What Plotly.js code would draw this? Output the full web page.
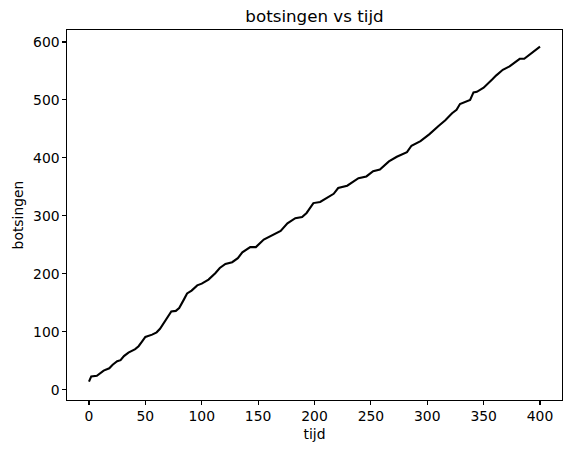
<!DOCTYPE html>
<html>
<head>
<meta charset="utf-8">
<script src="https://cdn.plot.ly/plotly-3.0.1.min.js"></script>
<style>html,body{margin:0;padding:0;background:#fff;}#chart{width:571px;height:453px;}</style>
</head>
<body>
<div id="chart"></div>
<script>
const tijd = [0,2,7,10,13,18,21,25,28,31,35,41,44,47,50,56,60,63,67,69,73,77,80,84,87,91,96,100,106,112,116,121,127,132,136,143,148,155,162,170,176,183,189,193,199,205,211,217,221,229,239,246,252,258,266,273,282,286,294,302,310,316,322,326,329,335,338,341,344,350,354,358,361,367,373,378,382,386,391,395,400];
const botsingen = [14,23,24,28,33,37,43,49,51,58,64,70,75,83,91,95,99,105,118,122,135,136,141,155,166,171,180,183,190,201,210,217,220,227,237,246,246,259,266,274,287,296,298,305,322,324,331,338,348,352,365,368,377,380,394,402,410,421,429,441,455,465,477,483,493,498,500,513,514,521,528,536,542,552,558,565,571,571,578,585,592];
const xTicks = [0,50,100,150,200,250,300,350,400];
const yTicks = [0,100,200,300,400,500,600];

const font = "DejaVu Sans, sans-serif";
const axisCommon = {
  showgrid:false, zeroline:false, showline:true, mirror:true,
  linecolor:'#000', linewidth:1.1, ticks:'outside', ticklen:3.5, tickwidth:1.1,
  tickcolor:'#000', tickfont:{family:font, size:13.9, color:'#000'}
};
Plotly.newPlot('chart', [{
  x: tijd, y: botsingen, type:'scatter', mode:'lines',
  line:{color:'#000', width:2.1}
}], {
  width:571, height:453,
  margin:{l:67, r:9, t:30, b:53, pad:0},
  paper_bgcolor:'#fff', plot_bgcolor:'#fff',
  showlegend:false,
  title:{text:'botsingen vs tijd', font:{family:font, size:16.7, color:'#000'}, x:0.5, xref:'paper', y:(453-22)/453, yref:'container', yanchor:'bottom'},
  xaxis: Object.assign({}, axisCommon, {range:[-19.5,419.5], tickvals:xTicks, ticktext:xTicks.map(String),
    title:{text:'tijd', font:{family:font, size:13.9, color:'#000'}, standoff:6}}),
  yaxis: Object.assign({}, axisCommon, {range:[-17.8,620.7], tickvals:yTicks, ticktext:yTicks.map(String),
    title:{text:'botsingen', font:{family:font, size:13.9, color:'#000'}, standoff:6}})
}, {staticPlot:true, displayModeBar:false});
</script>
</body>
</html>
